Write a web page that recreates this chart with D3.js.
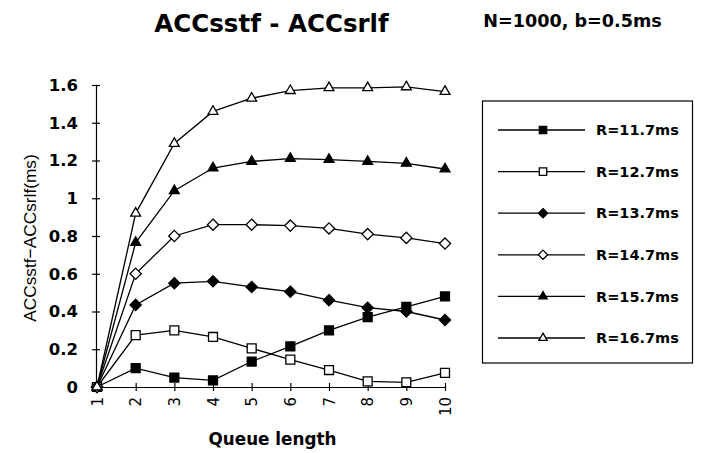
<!DOCTYPE html>
<html>
<head>
<meta charset="utf-8">
<script src="https://cdn.jsdelivr.net/npm/d3@7"></script>
<style>
  html, body { margin: 0; padding: 0; background: #fff; }
  svg { display: block; }
</style>
</head>
<body>
<svg id="chart" width="704" height="453"></svg>
<script>
// Queue lengths along the x axis
const queueLength = [1, 2, 3, 4, 5, 6, 7, 8, 9, 10];

// ACCsstf - ACCsrlf (ms) for each rotational latency R
const r117 = [0, 0.10, 0.05, 0.035, 0.135, 0.215, 0.30, 0.37, 0.425, 0.48];
const r127 = [0, 0.275, 0.30, 0.265, 0.205, 0.145, 0.09, 0.03, 0.025, 0.075];
const r137 = [0, 0.435, 0.55, 0.56, 0.53, 0.505, 0.46, 0.42, 0.40, 0.355];
const r147 = [0, 0.60, 0.80, 0.86, 0.86, 0.855, 0.84, 0.81, 0.79, 0.76];
const r157 = [0, 0.765, 1.04, 1.16, 1.195, 1.21, 1.205, 1.195, 1.185, 1.155];
const r167 = [0, 0.92, 1.29, 1.46, 1.53, 1.57, 1.585, 1.585, 1.59, 1.565];

const seriesNames = ["R=11.7ms", "R=12.7ms", "R=13.7ms", "R=14.7ms", "R=15.7ms", "R=16.7ms"];
const seriesValues = [r117, r127, r137, r147, r157, r167];
const seriesMarkers = ["squareFilled", "squareOpen", "diamondFilled", "diamondOpen", "triangleFilled", "triangleOpen"];

const yTickValues = [0, 0.2, 0.4, 0.6, 0.8, 1.0, 1.2, 1.4, 1.6];
const yTickLabels = ["0", "0.2", "0.4", "0.6", "0.8", "1", "1.2", "1.4", "1.6"];

const titleText = "ACCsstf - ACCsrlf";
const subtitleText = "N=1000, b=0.5ms";
const xTitle = "Queue length";
const yTitle = "ACCsstf\u2212ACCsrlf(ms)";

const svg = d3.select("#chart");
const boldFont = "'DejaVu Sans', sans-serif";

const x = d3.scaleLinear().domain([1, 10]).range([97, 445]);
const y = d3.scaleLinear().domain([0, 1.6]).range([387, 85]);

// Marker shapes (size = area for d3.symbol)
function markerPath(kind, size) {
  const type = kind.startsWith("square") ? d3.symbolSquare
             : kind.startsWith("diamond") ? d3.symbolDiamond2
             : d3.symbolTriangle2;
  return d3.symbol().type(type).size(size)();
}
function markerFill(kind) { return kind.endsWith("Filled") ? "#000" : "#fff"; }

// Axes
const yAxis = d3.axisLeft(y).tickValues(yTickValues)
  .tickFormat((d, i) => yTickLabels[i]).tickSizeInner(4).tickSizeOuter(0).tickPadding(14);
const gy = svg.append("g").attr("transform", `translate(${x(1) - 1},0)`).call(yAxis);
gy.select(".domain").attr("stroke", "#000").attr("stroke-width", 1.2);
gy.selectAll(".tick line").attr("x2", -4).attr("x1", 4).attr("stroke", "#000").attr("stroke-width", 1.2);
gy.selectAll(".tick text")
  .attr("font-family", boldFont).attr("font-weight", "bold").attr("font-size", 16.5).attr("fill", "#000");

const xAxis = d3.axisBottom(x).tickValues(queueLength).tickFormat(d3.format("d"))
  .tickSizeInner(4).tickSizeOuter(0);
const gx = svg.append("g").attr("transform", `translate(0,${y(0)})`).call(xAxis);
gx.select(".domain").attr("stroke", "#000").attr("stroke-width", 1.2);
gx.selectAll(".tick line").attr("y1", -4).attr("y2", 4).attr("stroke", "#000").attr("stroke-width", 1.2);
gx.selectAll(".tick text")
  .attr("font-family", "'DejaVu Sans', sans-serif").attr("font-size", 15).attr("fill", "#000")
  .attr("transform", "rotate(-90)")
  .attr("text-anchor", "end").attr("dy", "0.35em").attr("x", -10).attr("y", 0);

// Series lines and markers
const line = d3.line().x((d, i) => x(queueLength[i])).y(d => y(d));
seriesValues.forEach((vals, s) => {
  const g = svg.append("g");
  g.append("path").datum(vals).attr("d", line)
    .attr("fill", "none").attr("stroke", "#000").attr("stroke-width", 1.3);
  g.selectAll("path.m").data(vals).join("path").attr("class", "m")
    .attr("transform", (d, i) => `translate(${x(queueLength[i])},${y(d)})`)
    .attr("d", markerPath(seriesMarkers[s], seriesMarkers[s].startsWith("triangle") ? 70 : 80))
    .attr("fill", markerFill(seriesMarkers[s])).attr("stroke", "#000").attr("stroke-width", 1.3);
});

// Titles
svg.append("text").attr("x", 271.5).attr("y", 32).attr("text-anchor", "middle")
  .attr("font-family", boldFont).attr("font-weight", "bold").attr("font-size", 24.5)
  .text(titleText);
svg.append("text").attr("x", 572.5).attr("y", 27).attr("text-anchor", "middle")
  .attr("font-family", boldFont).attr("font-weight", "bold").attr("font-size", 17.6)
  .text(subtitleText);
svg.append("text").attr("x", 272.5).attr("y", 445).attr("text-anchor", "middle")
  .attr("font-family", boldFont).attr("font-weight", "bold").attr("font-size", 16.8)
  .text(xTitle);
svg.append("text").attr("transform", "translate(36,238) rotate(-90)").attr("text-anchor", "middle")
  .attr("font-family", "'Liberation Sans', Arial, sans-serif").attr("font-size", 17.3)
  .text(yTitle);

// Legend
const legend = svg.append("g");
legend.append("rect").attr("x", 482.5).attr("y", 101).attr("width", 210).attr("height", 262)
  .attr("fill", "#fff").attr("stroke", "#000").attr("stroke-width", 1.2);
const legendY = d3.scalePoint().domain(seriesNames).range([130, 338]);
seriesNames.forEach((name, s) => {
  const ly = legendY(name);
  legend.append("line").attr("x1", 498).attr("x2", 585).attr("y1", ly).attr("y2", ly)
    .attr("stroke", "#000").attr("stroke-width", 1.3);
  legend.append("path").attr("transform", `translate(543,${ly})`)
    .attr("d", markerPath(seriesMarkers[s], seriesMarkers[s].startsWith("triangle") ? 50 : 55))
    .attr("fill", markerFill(seriesMarkers[s])).attr("stroke", "#000").attr("stroke-width", 1.3);
  legend.append("text").attr("x", 596).attr("y", ly).attr("dy", "0.36em")
    .attr("font-family", boldFont).attr("font-weight", "bold").attr("font-size", 14.5)
    .text(name);
});
</script>
</body>
</html>
